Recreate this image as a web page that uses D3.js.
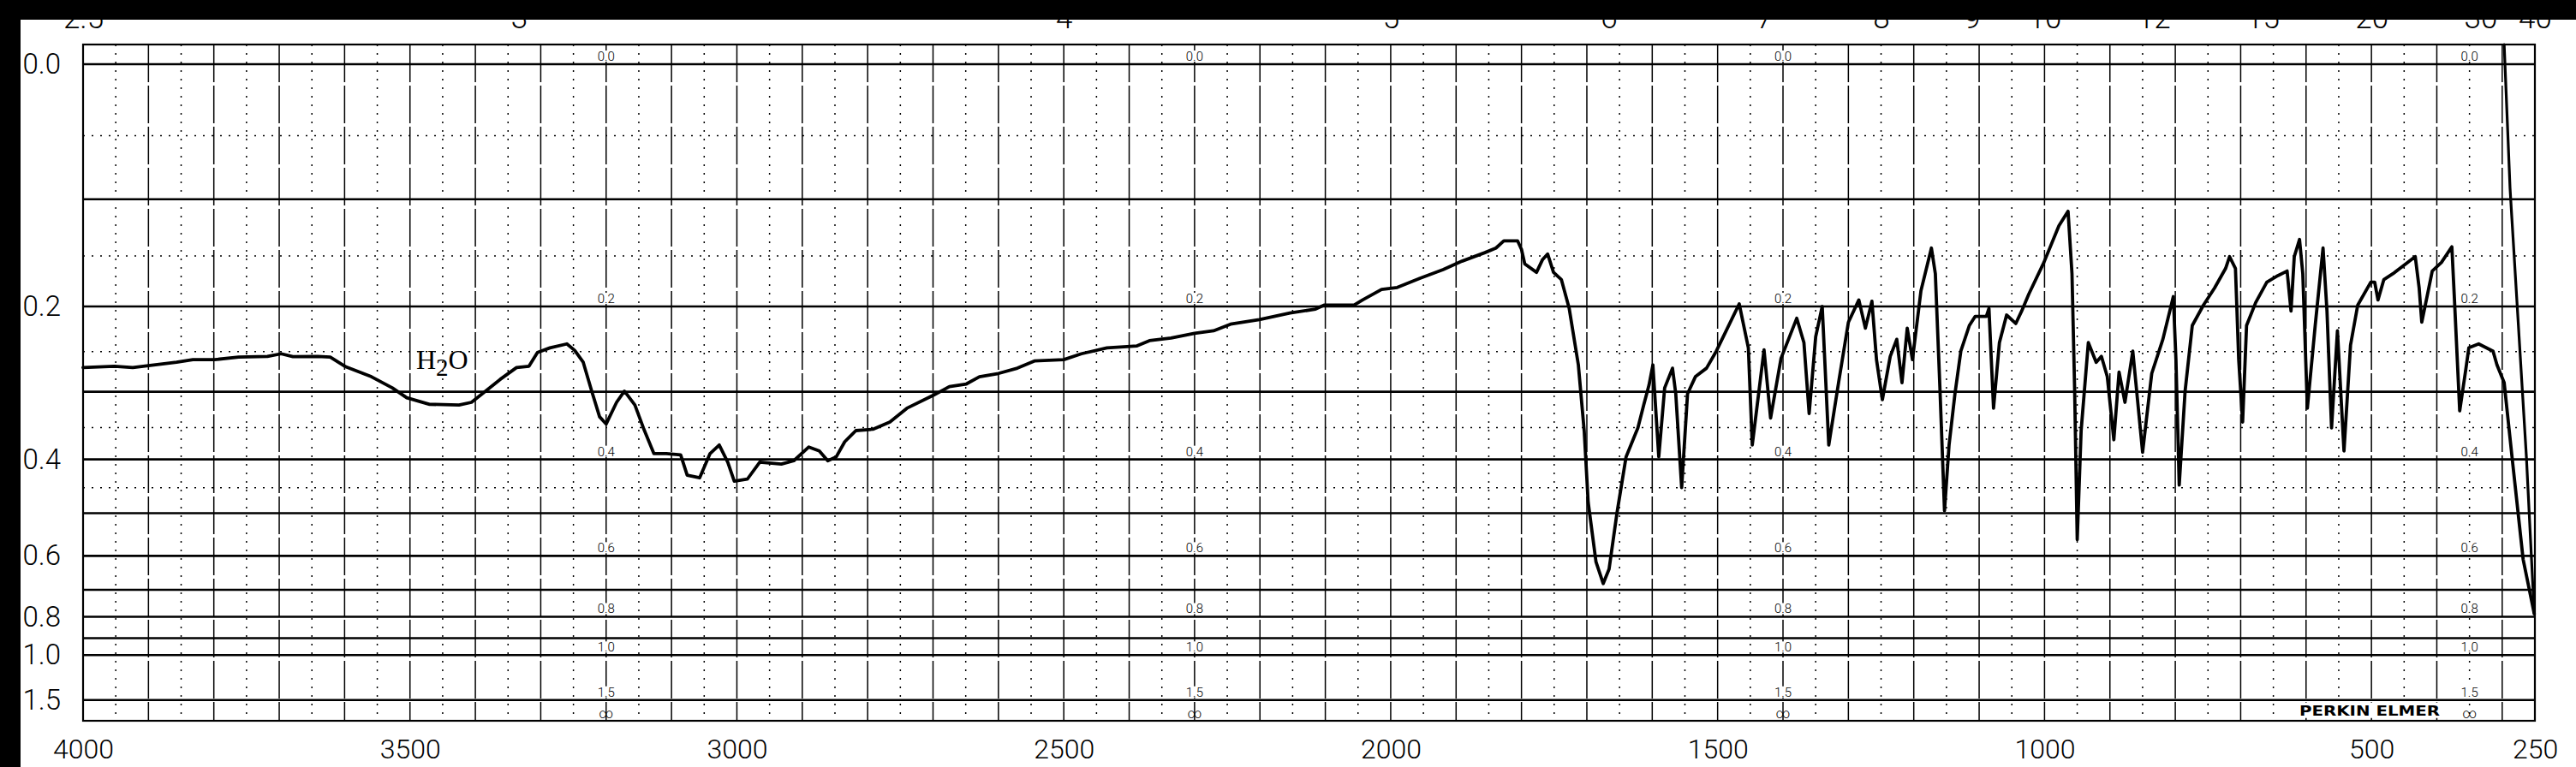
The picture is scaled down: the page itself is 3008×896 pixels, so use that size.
<!DOCTYPE html>
<html>
<head>
<meta charset="utf-8">
<script src="https://d3js.org/d3.v7.min.js"></script>
<style>
  html, body { margin: 0; padding: 0; background: #fff; }
  svg { display: block; }
</style>
</head>
<body>
<svg id="chart" width="3008" height="896"></svg>
<script>
// ---------------- data ----------------
const wavenumberTicks = [4000, 3500, 3000, 2500, 2000, 1500, 1000, 500, 250];
const micronTicks = [2.5, 3, 4, 5, 6, 7, 8, 9, 10, 12, 15, 20, 30, 40];
const absorbanceLabels = [0.0, 0.2, 0.4, 0.6, 0.8, 1.0, 1.5];
const absorbanceLines = [0.0, 0.1, 0.2, 0.3, 0.4, 0.5, 0.6, 0.7, 0.8, 0.9, 1.0, 1.5];
const absorbanceMinor = [0.05, 0.15, 0.25, 0.35, 0.45];
const labelColumns = [3200, 2300, 1400, 350];

// [wavenumber cm-1, transmittance %]
const spectrum = [
  [4000, 53.8], [3952, 54.0], [3924, 53.8], [3900, 54.1], [3857, 54.6], [3832, 55.0],
  [3799, 55.0], [3762, 55.4], [3718, 55.5], [3697, 55.9], [3679, 55.45], [3641, 55.5],
  [3622, 55.4], [3598, 53.9], [3559, 52.4], [3527, 50.7], [3505, 49.2], [3470, 48.2],
  [3425, 48.1], [3406, 48.5], [3387, 50.0], [3362, 52.0], [3337, 53.8], [3318, 54.0],
  [3305, 56.1], [3286, 56.8], [3260, 57.4], [3248, 56.4], [3235, 54.6], [3222, 50.2],
  [3210, 46.3], [3200, 45.2], [3184, 48.5], [3172, 50.2], [3156, 48.1], [3143, 44.6],
  [3127, 40.7], [3108, 40.7], [3086, 40.5], [3076, 37.4], [3057, 37.0], [3041, 40.7],
  [3027, 42.0], [3014, 39.4], [3004, 36.5], [2984, 36.8], [2965, 39.4], [2932, 39.1],
  [2913, 39.6], [2890, 41.7], [2874, 41.1], [2861, 39.6], [2848, 40.2], [2835, 42.5],
  [2818, 44.2], [2792, 44.4], [2766, 45.5], [2740, 47.6], [2699, 49.6], [2675, 50.9],
  [2649, 51.3], [2629, 52.4], [2600, 52.9], [2571, 53.7], [2545, 54.8], [2500, 55.0],
  [2473, 55.9], [2434, 56.8], [2388, 57.1], [2369, 57.9], [2336, 58.3], [2300, 59.0],
  [2271, 59.4], [2245, 60.4], [2201, 61.1], [2154, 62.1], [2115, 62.7], [2102, 63.3],
  [2056, 63.3], [2043, 64.1], [2014, 65.7], [1990, 66.0], [1955, 67.4], [1920, 68.7],
  [1891, 70.0], [1856, 71.3], [1839, 72.0], [1827, 73.1], [1806, 73.1], [1800, 71.8],
  [1795, 69.6], [1777, 68.3], [1768, 70.2], [1760, 71.1], [1751, 68.3], [1739, 67.2],
  [1727, 62.8], [1713, 54.2], [1704, 44.1], [1698, 33.3], [1686, 24.2], [1675, 20.9],
  [1666, 23.1], [1654, 31.6], [1640, 40.2], [1622, 44.6], [1613, 48.1], [1605, 51.1],
  [1599, 54.2], [1590, 40.2], [1581, 50.7], [1569, 53.7], [1564, 49.8], [1555, 35.5],
  [1546, 49.8], [1534, 52.4], [1517, 53.7], [1502, 56.3], [1485, 59.8], [1467, 63.5],
  [1453, 56.8], [1447, 42.0], [1429, 56.5], [1419, 46.1], [1403, 55.2], [1379, 61.3],
  [1368, 57.6], [1360, 46.8], [1350, 58.5], [1340, 63.1], [1330, 42.0], [1315, 51.5],
  [1300, 60.7], [1284, 64.1], [1274, 59.8], [1264, 63.9], [1257, 55.0], [1248, 48.9],
  [1236, 55.5], [1226, 58.1], [1218, 51.5], [1210, 59.8], [1202, 55.0], [1189, 65.5],
  [1173, 72.0], [1167, 68.1], [1160, 50.7], [1153, 32.0], [1146, 42.0], [1137, 49.8],
  [1128, 56.3], [1115, 60.2], [1106, 61.6], [1089, 61.6], [1085, 62.8], [1078, 47.6],
  [1069, 57.6], [1058, 61.8], [1044, 60.5], [1035, 62.4], [1024, 65.0], [1001, 69.8],
  [978, 75.4], [964, 77.6], [958, 68.1], [954, 50.7], [950, 27.6], [944, 44.2],
  [933, 57.6], [921, 54.6], [913, 55.5], [904, 52.4], [894, 42.8], [886, 53.1],
  [877, 48.5], [865, 56.3], [850, 40.9], [836, 52.9], [819, 58.1], [803, 64.6],
  [799, 55.0], [794, 35.9], [785, 50.2], [774, 60.2], [757, 63.3], [740, 65.9],
  [723, 68.9], [717, 70.7], [708, 68.9], [703, 55.0], [697, 45.5], [691, 60.2],
  [677, 63.7], [660, 66.8], [643, 67.8], [629, 68.5], [623, 62.4], [618, 70.7],
  [610, 73.3], [605, 68.1], [598, 47.6], [586, 60.2], [574, 72.0], [568, 62.4],
  [561, 44.6], [552, 59.4], [542, 41.1], [532, 57.2], [521, 63.3], [501, 66.8],
  [495, 66.8], [490, 64.1], [481, 67.2], [467, 68.1], [450, 69.4], [433, 70.7],
  [427, 65.9], [423, 60.7], [415, 64.6], [407, 68.5], [393, 69.8], [377, 72.2],
  [373, 64.1], [365, 47.2], [356, 53.3], [351, 56.8], [336, 57.4], [314, 56.3],
  [308, 54.2], [297, 51.5], [285, 40.2], [268, 24.6], [251, 16.3]
];
// pen running back up at the end of the scan
const penReturn = [[251, 16.3], [263, 40.2], [288, 81.1], [297, 103]];

// ---------------- setup ----------------
const svg = d3.select("#chart");
const W = 3008, H = 896;
const numFont = "Roboto, 'Liberation Sans Narrow', 'DejaVu Sans Condensed', sans-serif";

const x = d3.scaleLinear().domain([4000, 250]).range([97, 2960]);
const y = d3.scaleLinear().domain([0, 100]).range([842, 75]);   // % transmittance
const absToT = a => 100 * Math.pow(10, -a);
const tTop = 103;  // top edge of the chart paper

svg.append("rect").attr("width", W).attr("height", H).attr("fill", "#fff");

// ---------------- grid ----------------
const grid = svg.append("g");

// vertical lines every 50 cm-1, near solid on the hundreds
grid.selectAll("line.v")
  .data(d3.range(250, 4001, 50))
  .enter().append("line")
  .attr("x1", d => x(d)).attr("x2", d => x(d))
  .attr("y1", y(tTop)).attr("y2", y(0))
  .attr("stroke", "#000")
  .attr("stroke-width", 1.5)
  .attr("stroke-dasharray", d => d % 100 === 0 ? "44,4" : "2,8");

// dotted half-step absorbance lines
grid.selectAll("line.hm")
  .data(absorbanceMinor)
  .enter().append("line")
  .attr("x1", x(4000)).attr("x2", x(250))
  .attr("y1", d => y(absToT(d))).attr("y2", d => y(absToT(d)))
  .attr("stroke", "#000").attr("stroke-width", 1.5)
  .attr("stroke-dasharray", "2,8");

// heavy absorbance lines
grid.selectAll("line.h")
  .data(absorbanceLines)
  .enter().append("line")
  .attr("x1", x(4000)).attr("x2", x(250))
  .attr("y1", d => y(absToT(d))).attr("y2", d => y(absToT(d)))
  .attr("stroke", "#000").attr("stroke-width", 2.6);

// frame
svg.append("rect")
  .attr("x", x(4000)).attr("y", y(tTop))
  .attr("width", x(250) - x(4000)).attr("height", y(0) - y(tTop))
  .attr("fill", "none").attr("stroke", "#000").attr("stroke-width", 2.2);

// ---------------- small absorbance labels on the paper ----------------
const colLabels = [];
labelColumns.forEach(c => absorbanceLabels.forEach(a => colLabels.push({ c, a })));

const inner = svg.append("g")
  .attr("font-family", numFont).attr("font-size", 15).attr("font-weight", 300)
  .attr("text-anchor", "middle");

inner.selectAll("rect")
  .data(colLabels)
  .enter().append("rect")
  .attr("x", d => x(d.c) - 13).attr("y", d => y(absToT(d.a)) - 16)
  .attr("width", 26).attr("height", 13).attr("fill", "#fff");

inner.selectAll("text.lab")
  .data(colLabels)
  .enter().append("text")
  .attr("x", d => x(d.c)).attr("y", d => y(absToT(d.a)) - 4)
  .text(d => d.a.toFixed(1));

inner.selectAll("text.inf")
  .data(labelColumns)
  .enter().append("text")
  .attr("x", d => x(d)).attr("y", y(0) - 3)
  .attr("font-size", 16)
  .text("∞");

// maker's mark
svg.append("rect")
  .attr("x", 2680).attr("y", y(absToT(1.5)) + 3)
  .attr("width", 180).attr("height", 18).attr("fill", "#fff");
svg.append("text")
  .attr("x", 2685).attr("y", 836)
  .attr("font-family", "'DejaVu Sans', sans-serif").attr("font-weight", "bold")
  .attr("font-size", 15).attr("textLength", 164).attr("lengthAdjust", "spacingAndGlyphs")
  .text("PERKIN ELMER");

// ---------------- spectrum ----------------
const line = d3.line().x(d => x(d[0])).y(d => y(d[1]));

svg.append("path")
  .datum(spectrum)
  .attr("d", line)
  .attr("fill", "none").attr("stroke", "#000")
  .attr("stroke-width", 3.8).attr("stroke-linejoin", "round").attr("stroke-linecap", "round");

svg.append("path")
  .datum(penReturn)
  .attr("d", line)
  .attr("fill", "none").attr("stroke", "#000")
  .attr("stroke-width", 3.2).attr("stroke-linecap", "round");

// H2O note
const note = svg.append("text")
  .attr("x", 486).attr("y", 431)
  .attr("font-family", "'Liberation Serif', 'DejaVu Serif', serif")
  .attr("font-size", 32);
note.append("tspan").text("H");
note.append("tspan").attr("dy", 8).attr("font-size", 29).text("2");
note.append("tspan").attr("dy", -8).text("O");

// ---------------- axes ----------------
const styleAxis = (g, size) => {
  g.select(".domain").remove();
  g.attr("font-family", numFont).attr("font-size", size).attr("font-weight", 300);
  g.selectAll("text").attr("fill", "#000");
};

// wavenumber labels: baseline about 6px above the page bottom
svg.append("g")
  .attr("transform", `translate(0,${y(0)})`)
  .call(d3.axisBottom(x).tickValues(wavenumberTicks).tickSize(0).tickPadding(21).tickFormat(d3.format("d")))
  .call(g => styleAxis(g, 32));

svg.append("g")
  .attr("transform", `translate(${x(4000)},0)`)
  .call(d3.axisLeft(y).tickValues(absorbanceLabels.map(absToT)).tickSize(0).tickPadding(26)
    .tickFormat(t => Math.abs(-Math.log10(t / 100)).toFixed(1)))
  .call(g => styleAxis(g, 33));

svg.append("g")
  .attr("transform", "translate(0,33)")
  .call(d3.axisTop(x).tickValues(micronTicks.map(m => 10000 / m)).tickSize(0).tickPadding(0)
    .tickFormat(d => String(Math.round(100000 / d) / 10)))
  .call(g => styleAxis(g, 35));

// scan border (black edges of the photocopy)
svg.append("rect").attr("x", 0).attr("y", 0).attr("width", W).attr("height", 23).attr("fill", "#000");
svg.append("rect").attr("x", 0).attr("y", 0).attr("width", 24).attr("height", H).attr("fill", "#000");
</script>
</body>
</html>
